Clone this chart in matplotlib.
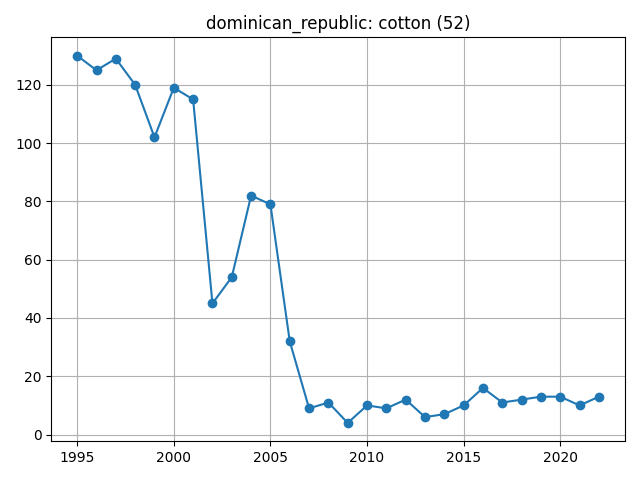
import matplotlib
matplotlib.use("Agg")
from matplotlib import pyplot as plt

years = list(range(1995, 2023))
values = [130, 125, 129, 120, 102, 119, 115, 45, 54, 82, 79, 32, 9, 11, 4,
          10, 9, 12, 6, 7, 10, 16, 11, 12, 13, 13, 10, 13]

fig, ax = plt.subplots(figsize=(6.4, 4.8), dpi=100)
ax.plot(years, values, marker='o')
ax.set_title('dominican_republic: cotton (52)')
ax.grid(True)
fig.tight_layout()
fig.savefig('out.png')
